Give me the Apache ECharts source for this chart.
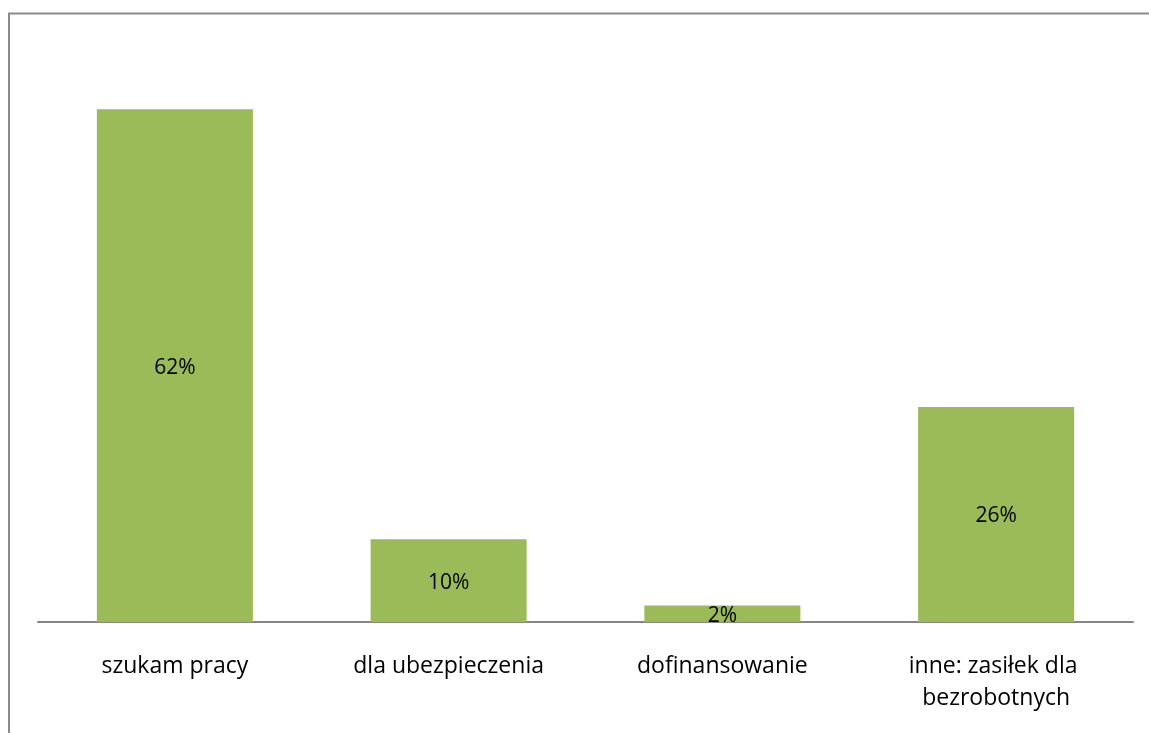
<!DOCTYPE html>
<html><head><meta charset="utf-8">
<script src="https://cdn.jsdelivr.net/npm/echarts@6/dist/echarts.min.js"></script>
<style>html,body{margin:0;padding:0;background:#fff}#c{width:1149px;height:733px}</style>
</head><body><div id="c"></div>
<script>
const categories = ["szukam pracy", "dla ubezpieczenia", "dofinansowanie", "inne: zasiłek dla bezrobotnych"];
const values = [62, 10, 2, 26];

const chart = echarts.init(document.getElementById('c'));
const FONT = 'Open Sans';
chart.setOption({
  animation: false,
  graphic: [{
    type: 'rect', shape: {x: 9, y: 13.5, width: 1170, height: 760},
    style: {fill: 'none', stroke: '#8a8a8a', lineWidth: 2}, silent: true
  }],
  grid: {left: 38, right: 16, top: 43, bottom: 111},
  xAxis: {
    type: 'category', data: categories,
    axisLine: {lineStyle: {color: '#868686', width: 2}},
    axisTick: {show: false},
    axisLabel: {
      color: '#000', fontFamily: FONT, fontSize: 23, margin: 28,
      width: 210, overflow: 'break', lineHeight: 32, interval: 0
    }
  },
  yAxis: {type: 'value', min: 0, max: 70, show: false, splitLine: {show: false}},
  series: [{
    type: 'bar', data: values, barWidth: '57%',
    itemStyle: {color: '#9BBB59'},
    label: {show: true, position: 'inside', offset: [0, 2], formatter: '{c}%', color: '#000', fontFamily: FONT, fontSize: 21}
  }]
});
</script></body></html>
